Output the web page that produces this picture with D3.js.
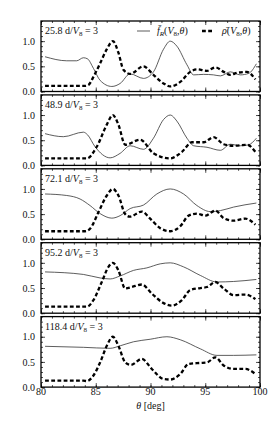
<!DOCTYPE html>
<html lang="en">
<head>
<meta charset="UTF-8">
<title>f_R and rho vs theta</title>
<script src="https://cdn.jsdelivr.net/npm/d3@7"></script>
<style>
    body { margin: 0; background: #fff; }
</style>
</head>
<body>
<script>
    // panel labels (days)
    var panelDays = ["25.8", "48.9", "72.1", "95.2", "118.4"];
    var xTicks = [80, 85, 90, 95, 100];
    var yTicks = [0.0, 0.5, 1.0];

    // panel 1
    var thetaF1 = [80.37, 82.35, 83.26, 83.87, 84.24, 84.79, 85.40, 86.47, 87.23, 88.14, 89.36, 90.27, 91.19, 91.80, 92.41, 93.33, 93.94, 94.85, 95.76, 96.38, 97.29, 98.20, 98.97, 99.67];
    var fR1     = [0.69, 0.61, 0.61, 0.67, 0.65, 0.46, 0.22, 0.10, 0.16, 0.35, 0.26, 0.39, 0.84, 1.00, 0.90, 0.53, 0.33, 0.34, 0.33, 0.31, 0.39, 0.33, 0.36, 0.55];
    var thetaP1 = [80.37, 82.0, 84.0, 84.33, 84.79, 85.40, 86.01, 86.56, 87.07, 87.53, 88.14, 89.36, 90.27, 91.19, 91.80, 92.72, 93.63, 94.24, 95.16, 95.92, 96.68, 97.29, 97.90, 98.81, 99.58];
    var rho1    = [0.11, 0.11, 0.11, 0.13, 0.29, 0.56, 0.84, 1.00, 0.77, 0.43, 0.35, 0.50, 0.33, 0.16, 0.10, 0.19, 0.39, 0.44, 0.41, 0.48, 0.39, 0.33, 0.37, 0.39, 0.24];

    // panel 2
    var thetaF2 = [80.37, 82.04, 83.87, 84.24, 84.94, 86.31, 87.23, 88.14, 89.36, 90.27, 91.19, 91.80, 92.41, 93.33, 93.94, 95.16, 96.38, 97.29, 98.20, 98.97, 99.67];
    var fR2     = [0.63, 0.57, 0.66, 0.61, 0.37, 0.15, 0.24, 0.39, 0.32, 0.54, 0.91, 1.00, 0.88, 0.54, 0.39, 0.36, 0.30, 0.42, 0.39, 0.41, 0.54];
    var thetaP2 = [80.37, 82.0, 84.18, 85.09, 86.01, 86.56, 87.07, 87.69, 89.06, 90.27, 91.80, 92.87, 93.79, 94.85, 95.76, 96.68, 97.59, 98.81, 99.58];
    var rho2    = [0.14, 0.14, 0.14, 0.37, 0.81, 1.00, 0.81, 0.41, 0.51, 0.24, 0.14, 0.27, 0.46, 0.46, 0.56, 0.42, 0.39, 0.41, 0.27];

    // panel 3
    var thetaF3 = [80.37, 82.35, 83.57, 84.48, 85.40, 86.47, 87.23, 88.14, 89.36, 90.58, 91.80, 93.02, 94.24, 95.46, 96.38, 97.59, 99.67];
    var fR3     = [0.90, 0.87, 0.80, 0.67, 0.51, 0.42, 0.47, 0.61, 0.68, 0.90, 1.00, 0.90, 0.67, 0.55, 0.57, 0.64, 0.72];
    var thetaP3 = [80.37, 82.0, 84.03, 84.48, 85.25, 86.01, 86.56, 87.07, 87.69, 88.10, 89.21, 89.97, 90.89, 91.80, 92.72, 93.48, 94.24, 95.00, 95.92, 96.68, 97.59, 98.66, 99.58];
    var rho3    = [0.16, 0.16, 0.16, 0.21, 0.54, 0.87, 1.00, 0.87, 0.50, 0.45, 0.55, 0.41, 0.22, 0.16, 0.26, 0.47, 0.51, 0.47, 0.57, 0.42, 0.37, 0.41, 0.29];

    // panel 4
    var thetaF4 = [80.37, 83.87, 85.40, 86.31, 87.23, 88.45, 89.67, 90.89, 91.80, 93.02, 94.55, 96.07, 97.59, 99.67];
    var fR4     = [0.82, 0.77, 0.70, 0.68, 0.74, 0.85, 0.90, 0.98, 1.00, 0.92, 0.75, 0.62, 0.63, 0.67];
    var thetaP4 = [80.37, 82.0, 84.18, 84.79, 85.55, 86.16, 86.56, 87.07, 87.69, 88.29, 89.21, 90.12, 91.19, 91.95, 92.87, 93.63, 94.55, 95.16, 95.92, 96.68, 97.59, 98.66, 99.58];
    var rho4    = [0.13, 0.13, 0.13, 0.26, 0.62, 0.92, 1.00, 0.85, 0.49, 0.52, 0.57, 0.39, 0.20, 0.15, 0.26, 0.46, 0.50, 0.52, 0.62, 0.49, 0.36, 0.37, 0.28];

    // panel 5
    var thetaF5 = [80.37, 83.87, 86.31, 87.23, 88.45, 89.97, 91.50, 92.72, 94.55, 96.07, 97.59, 99.67];
    var fR5     = [0.81, 0.79, 0.77, 0.82, 0.90, 0.95, 1.00, 0.94, 0.76, 0.63, 0.63, 0.64];
    var thetaP5 = [80.37, 82.0, 83.87, 84.18, 84.79, 85.40, 86.01, 86.56, 87.07, 87.69, 88.20, 89.21, 90.12, 91.19, 91.80, 92.72, 93.48, 94.55, 95.16, 95.92, 96.68, 97.59, 98.66, 99.58];
    var rho5    = [0.13, 0.13, 0.13, 0.12, 0.23, 0.49, 0.82, 1.00, 0.82, 0.49, 0.44, 0.56, 0.36, 0.16, 0.15, 0.26, 0.46, 0.48, 0.49, 0.59, 0.43, 0.36, 0.36, 0.26];

    var thetaF = [thetaF1, thetaF2, thetaF3, thetaF4, thetaF5];
    var fR     = [fR1, fR2, fR3, fR4, fR5];
    var thetaP = [thetaP1, thetaP2, thetaP3, thetaP4, thetaP5];
    var rho    = [rho1, rho2, rho3, rho4, rho5];

    var FONT = "'Liberation Serif', 'DejaVu Serif', serif";
    var widthSVG = 274, heightSVG = 431;
    var left = 41, right = 260, top0 = 21, step = 73.9, panelH = 70.5;

    var svg = d3.select("body").append("svg")
                .attr("width", widthSVG)
                .attr("height", heightSVG)
                .attr("font-family", FONT)
                .style("font-family", FONT);

    var scaleX = d3.scaleLinear().domain([80, 100]).range([left, right]);

    var line = d3.line()
                 .x(function (d) { return scaleX(d[0]); })
                 .curve(d3.curveMonotoneX);

    // helper: write "V_8" style pieces into a text element
    function addV8(t) {
        t.append("tspan").attr("font-style", "italic").text("V");
        t.append("tspan").attr("font-size", "7px").attr("dy", 2).text("8");
    }

    panelDays.forEach(function (day, k) {
        var y0 = top0 + k * step;
        var scaleY = d3.scaleLinear().domain([0, 1.4]).range([y0 + panelH, y0]);
        line.y(function (d) { return scaleY(d[1]); });

        var g = svg.append("g");

        // clip so curves stay inside the frame
        g.append("clipPath").attr("id", "clip" + k)
            .append("rect").attr("x", left).attr("y", y0).attr("width", right - left).attr("height", panelH);

        var fData = d3.zip(thetaF[k], fR[k]);
        var pData = d3.zip(thetaP[k], rho[k]);

        g.append("path")
            .attr("d", line(fData))
            .attr("clip-path", "url(#clip" + k + ")")
            .attr("fill", "none")
            .attr("stroke", "#333")
            .attr("stroke-width", 0.8);

        g.append("path")
            .attr("d", line(pData))
            .attr("clip-path", "url(#clip" + k + ")")
            .attr("fill", "none")
            .attr("stroke", "#000")
            .attr("stroke-width", 2.3)
            .attr("stroke-dasharray", "3.8,2.4");

        // ticks (inward, on all four sides)
        var axB = d3.axisBottom(scaleX).tickValues(xTicks).tickSize(-4).tickFormat("");
        var axBm = d3.axisBottom(scaleX).ticks(20).tickSize(-2).tickFormat("");
        var axT = d3.axisTop(scaleX).tickValues(xTicks).tickSize(-4).tickFormat("");
        var axTm = d3.axisTop(scaleX).ticks(20).tickSize(-2).tickFormat("");
        var axL = d3.axisLeft(scaleY).tickValues(yTicks).tickSize(-4).tickFormat(d3.format(".1f")).tickPadding(6);
        var axLm = d3.axisLeft(scaleY).tickValues(d3.range(0, 1.41, 0.1)).tickSize(-2).tickFormat("");
        var axR = d3.axisRight(scaleY).tickValues(yTicks).tickSize(-4).tickFormat("");
        var axRm = d3.axisRight(scaleY).tickValues(d3.range(0, 1.41, 0.1)).tickSize(-2).tickFormat("");

        [[axBm, "translate(0," + (y0 + panelH) + ")"],
         [axB, "translate(0," + (y0 + panelH) + ")"],
         [axTm, "translate(0," + y0 + ")"],
         [axT, "translate(0," + y0 + ")"],
         [axLm, "translate(" + left + ",0)"],
         [axL, "translate(" + left + ",0)"],
         [axRm, "translate(" + right + ",0)"],
         [axR, "translate(" + right + ",0)"]].forEach(function (a) {
            var ax = g.append("g").attr("transform", a[1]).call(a[0]);
            ax.attr("font-family", FONT).attr("font-size", 10);
            ax.select(".domain").remove();
            ax.selectAll("line").attr("stroke", "#000").attr("stroke-width", 0.7);
            ax.selectAll("text").attr("fill", "#111");
        });

        // frame
        g.append("rect")
            .attr("x", left).attr("y", y0)
            .attr("width", right - left).attr("height", panelH)
            .attr("fill", "none")
            .attr("stroke", "#000")
            .attr("stroke-width", 1.3);

        // panel label
        var lab = g.append("text")
            .attr("x", left + 4).attr("y", y0 + 13)
            .attr("font-size", "10px").attr("fill", "#111");
        lab.append("tspan").text(day + " d/");
        addV8(lab);
        lab.append("tspan").attr("dy", -2).text(" = 3");
    });

    // legend in the first panel
    var ly = top0 + 10;
    svg.append("line").attr("x1", 137).attr("x2", 150).attr("y1", ly).attr("y2", ly)
        .attr("stroke", "#333").attr("stroke-width", 0.8);
    var t1 = svg.append("text").attr("x", 157).attr("y", ly + 3).attr("font-size", "10px").attr("fill", "#111");
    t1.append("tspan").attr("font-style", "italic").text("f\u0304");
    t1.append("tspan").attr("font-style", "italic").attr("font-size", "7px").attr("dy", 2).text("R");
    t1.append("tspan").attr("dy", -2).text("(");
    addV8(t1);
    t1.append("tspan").attr("dy", -2).text(",");
    t1.append("tspan").attr("font-style", "italic").text("\u03B8");
    t1.append("tspan").text(")");

    svg.append("line").attr("x1", 202).attr("x2", 213).attr("y1", ly).attr("y2", ly)
        .attr("stroke", "#000").attr("stroke-width", 2.3).attr("stroke-dasharray", "3.8,2.4");
    var t2 = svg.append("text").attr("x", 222).attr("y", ly + 3).attr("font-size", "10px").attr("fill", "#111");
    t2.append("tspan").attr("font-style", "italic").text("\u03C1\u0304");
    t2.append("tspan").text("(");
    addV8(t2);
    t2.append("tspan").attr("dy", -2).text(",");
    t2.append("tspan").attr("font-style", "italic").text("\u03B8");
    t2.append("tspan").text(")");

    // x tick labels under the last panel
    var yBottom = top0 + 4 * step + panelH;
    svg.append("g").selectAll("text")
        .data(xTicks)
        .enter()
        .append("text")
        .attr("x", function (d) { return scaleX(d); })
        .attr("y", yBottom + 8)
        .attr("text-anchor", "middle")
        .attr("font-size", "10px")
        .attr("fill", "#111")
        .text(function (d) { return d; });

    var xl = svg.append("text")
        .attr("x", (left + right) / 2).attr("y", yBottom + 22)
        .attr("text-anchor", "middle")
        .attr("font-size", "10px")
        .attr("fill", "#111");
    xl.append("tspan").attr("font-style", "italic").text("\u03B8");
    xl.append("tspan").text(" [deg]");
</script>
</body>
</html>
